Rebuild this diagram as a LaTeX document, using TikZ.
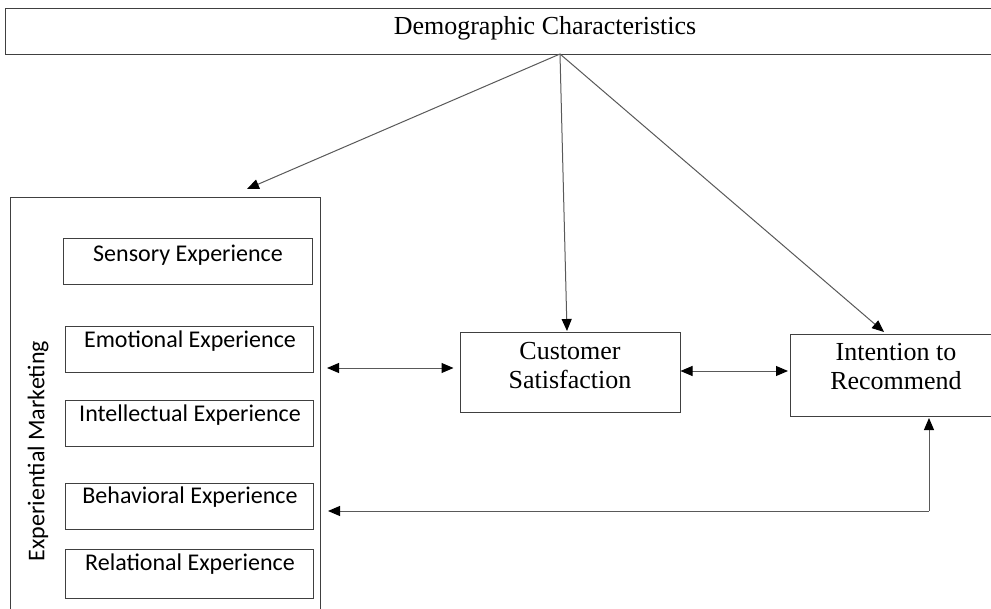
\documentclass[tikz,border=0pt]{standalone}
\usepackage{fontspec}
\setmainfont{Liberation Serif}
\newfontfamily\calib{Carlito}
\usetikzlibrary{arrows.meta}
\begin{document}
\begin{tikzpicture}[x=1pt,y=-1pt,
  box/.style={draw=black!75, line width=1pt, rectangle, inner sep=0pt},
  subbox/.style={box, minimum width=248pt, minimum height=46pt, anchor=north west},
  sanstext/.style={font=\calib\fontsize{24}{28}\selectfont, inner sep=0pt},
  seriftext/.style={font=\fontsize{26}{29}\selectfont, align=center, inner sep=0pt},
  conn/.style={draw=black!65, line width=1pt},
  tip/.style={-{Triangle[length=12pt,width=10pt,color=black]}},
  dtip/.style={{Triangle[length=12pt,width=10pt,color=black]}-{Triangle[length=12pt,width=10pt,color=black]}}]
\useasboundingbox (0,0) rectangle (991,608);
\fill[white] (0,0) rectangle (991,608);
% top box
\node[box, minimum width=990pt, minimum height=46pt] (demo) at (500,31) {};
\node[seriftext] (demotext) at (545,28) {Demographic Characteristics};
\coordinate (apex) at (560,54);
% experiential marketing
\node[box, minimum width=310pt, minimum height=430pt, anchor=north west] (em) at (10,197) {};
\node[sanstext, rotate=90] (emtext) at (38,451) {Experiential Marketing};
\node[subbox, minimum width=249pt, minimum height=46pt] (sens) at (63,238) {};
\node[sanstext] (senstext) at (188,255) {Sensory Experience};
\node[subbox] (emo) at (65,326) {};
\node[sanstext] (emotext) at (190,341) {Emotional Experience};
\node[subbox] (intel) at (65,400) {};
\node[sanstext] (inteltext) at (190,415) {Intellectual Experience};
\node[subbox] (behav) at (65,483) {};
\node[sanstext] (behavtext) at (190,497) {Behavioral Experience};
\node[subbox, minimum height=49pt] (rel) at (65,549) {};
\node[sanstext] (reltext) at (190,564) {Relational Experience};
% customer satisfaction
\node[box, minimum width=220pt, minimum height=80pt] (cs) at (570,372) {};
\node[seriftext] (cstext) at (570,366) {Customer\\Satisfaction};
% intention to recommend
\node[box, minimum width=212pt, minimum height=82pt, anchor=north west] (itr) at (790,334) {};
\node[seriftext] (itrtext) at (896,367) {Intention to\\Recommend};
% connectors
\coordinate (emtop) at (247,189);
\coordinate (cstop) at (567,331);
\coordinate (itrtop) at (884,332);
\draw[conn, tip] (apex) -- (emtop);
\draw[conn, tip] (apex) -- (cstop);
\draw[conn, tip] (apex) -- (itrtop);
\draw[conn, dtip, shorten <=6pt, shorten >=6pt] (em.east |- 0,368) -- (cs.west |- 0,368);
\draw[conn, dtip, shorten <=0pt, shorten >=2pt] (cs.east |- 0,371) -- (itr.west |- 0,371);
\coordinate (corner) at (929,511);
\draw[conn, tip, shorten >=1pt] (corner) -- (itr.south -| corner);
\draw[conn, tip, shorten >=7pt] (corner) -- (em.east |- corner);
\end{tikzpicture}
\end{document}
